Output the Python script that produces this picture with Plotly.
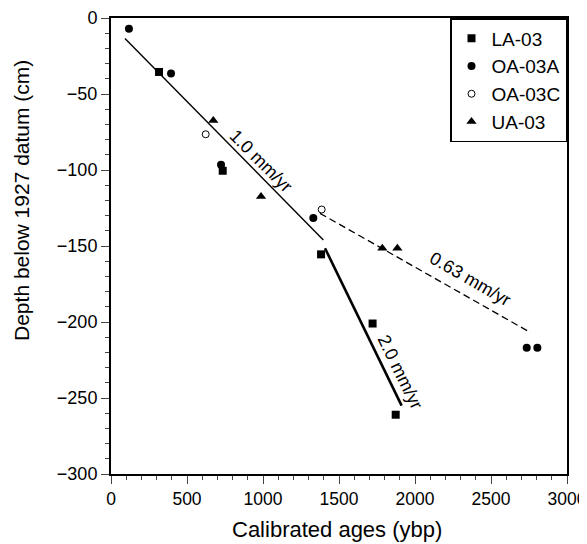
import plotly.graph_objects as go

# Data (calibrated age ybp, depth cm)
la_age = [316, 735, 1382, 1721, 1873]
la_depth = [-35.5, -100.5, -155.5, -201, -261]

oa_a_age = [118, 395, 724, 1331, 2735, 2805]
oa_a_depth = [-7, -36.5, -96.5, -131.5, -217, -217]

oa_c_age = [623, 1386]
oa_c_depth = [-76.5, -126]

ua_age = [673, 987, 1785, 1884]
ua_depth = [-67.5, -117.5, -151.5, -151.5]

# Fitted rate lines (endpoints)
fit1_age = [92, 1397]
fit1_depth = [-13.5, -146]
fit2_age = [1408, 1912]
fit2_depth = [-151.5, -255]
fit3_age = [1375, 2761]
fit3_depth = [-128.5, -207]

rate_labels = ["1.0 mm/yr", "2.0 mm/yr", "0.63 mm/yr"]
rate_x = [987, 1901, 2362]
rate_y = [-94, -233, -172]
rate_angle = [45, 64, 30]

xticks = [0, 500, 1000, 1500, 2000, 2500, 3000]
yticks = [0, -50, -100, -150, -200, -250, -300]

x_title = "Calibrated ages (ybp)"
y_title = "Depth below 1927 datum (cm)"

FONT = "Liberation Sans, Arial, Helvetica, sans-serif"

fig = go.Figure()

fig.add_trace(go.Scatter(x=fit1_age, y=fit1_depth, mode="lines",
                         line=dict(color="black", width=1.4), showlegend=False, hoverinfo="skip"))
fig.add_trace(go.Scatter(x=fit2_age, y=fit2_depth, mode="lines",
                         line=dict(color="black", width=2.6), showlegend=False, hoverinfo="skip"))
fig.add_trace(go.Scatter(x=fit3_age, y=fit3_depth, mode="lines",
                         line=dict(color="black", width=1.3, dash="7px,4px"), showlegend=False, hoverinfo="skip"))

fig.add_trace(go.Scatter(x=la_age, y=la_depth, mode="markers", name="LA-03",
                         marker=dict(symbol="square", size=8, color="black")))
fig.add_trace(go.Scatter(x=oa_a_age, y=oa_a_depth, mode="markers", name="OA-03A",
                         marker=dict(symbol="circle", size=8, color="black")))
fig.add_trace(go.Scatter(x=oa_c_age, y=oa_c_depth, mode="markers", name="OA-03C",
                         marker=dict(symbol="circle-open", size=7, color="black", line=dict(width=1))))
fig.add_trace(go.Scatter(x=ua_age, y=ua_depth, mode="markers", name="UA-03",
                         marker=dict(symbol="triangle-up", size=9, color="black")))

for t, x, y, a in zip(rate_labels, rate_x, rate_y, rate_angle):
    fig.add_annotation(x=x, y=y, text=t, textangle=a, showarrow=False,
                       xanchor="center", yanchor="middle",
                       font=dict(family=FONT, size=18, color="black"))

# Axis titles as annotations (placed like the original)
fig.add_annotation(x=0.4956, y=-0.1215, xref="paper", yref="paper", text=x_title,
                   showarrow=False, xanchor="center", yanchor="middle",
                   font=dict(family=FONT, size=22, color="black"))
fig.add_annotation(x=-0.1963, y=0.5998, xref="paper", yref="paper", text=y_title,
                   textangle=-90, showarrow=False, xanchor="center", yanchor="middle",
                   font=dict(family=FONT, size=21, color="black"))

fig.update_layout(
    width=579, height=536,
    margin=dict(l=103, r=20, t=10, b=70),
    paper_bgcolor="white", plot_bgcolor="white",
    font=dict(family=FONT, size=18, color="black"),
    showlegend=True,
    legend=dict(x=1, y=1, xanchor="right", yanchor="top",
                bordercolor="black", borderwidth=1.5, bgcolor="white",
                font=dict(family=FONT, size=19), tracegroupgap=0,
                itemwidth=30),
)

fig.update_xaxes(range=[0, 3000], tickvals=xticks, ticks="outside", ticklen=8, tickwidth=1.2,
                 tickfont=dict(size=17.5),
                 minor=dict(dtick=100, ticks="outside", ticklen=4, tickwidth=1),
                 showline=True, linewidth=2, linecolor="black", mirror=True,
                 showgrid=False, zeroline=False, automargin=False)
fig.update_yaxes(range=[-300, 0], tickvals=yticks, ticks="outside", ticklen=8, tickwidth=1.2,
                 minor=dict(dtick=10, ticks="outside", ticklen=4, tickwidth=1),
                 showline=True, linewidth=2, linecolor="black", mirror=True,
                 showgrid=False, zeroline=False, automargin=False)

fig.write_html("out.html")
